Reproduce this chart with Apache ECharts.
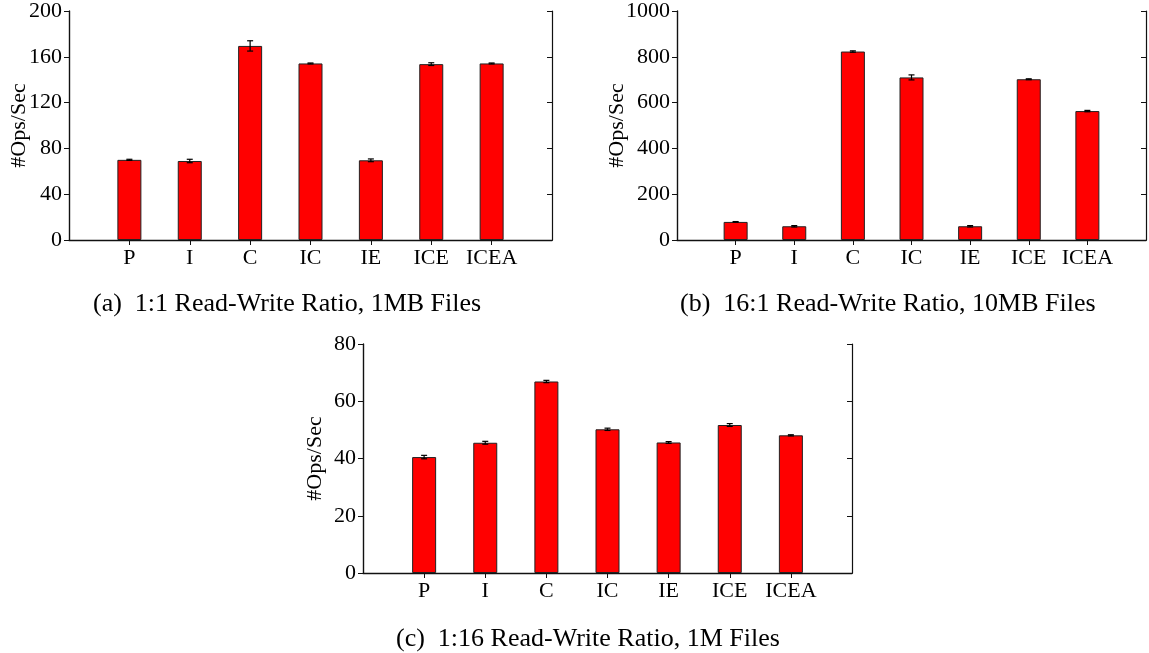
<!DOCTYPE html>
<html>
<head>
<meta charset="utf-8">
<script src="https://cdn.jsdelivr.net/npm/echarts@6/dist/echarts.min.js"></script>
<style>
  html, body { margin: 0; padding: 0; background: #fff; }
  #main { width: 1149px; height: 653px; }
</style>
</head>
<body>
<div id="main"></div>
<script>
// Configurations benchmarked
const categories = ['P', 'I', 'C', 'IC', 'IE', 'ICE', 'ICEA'];

// (a) 1:1 read-write ratio, 1MB files
const opsA = [70, 69, 169.5, 154.2, 69.6, 153.6, 154.2];
const errA = [0.5, 1.5, 4.5, 0.4, 1.2, 1.2, 0.4];
const ticksA = [0, 40, 80, 120, 160, 200];

// (b) 16:1 read-write ratio, 10MB files
const opsB = [79, 60, 823, 710, 60, 702, 563];
const errB = [1.5, 3, 3, 11, 3, 2, 3];
const ticksB = [0, 200, 400, 600, 800, 1000];

// (c) 1:16 read-write ratio, 1M files
const opsC = [40.5, 45.5, 66.9, 50.2, 45.6, 51.7, 48.1];
const errC = [0.6, 0.5, 0.4, 0.4, 0.3, 0.5, 0.2];
const ticksC = [0, 20, 40, 60, 80];

const captions = [
  '(a)  1:1 Read-Write Ratio, 1MB Files',
  '(b)  16:1 Read-Write Ratio, 10MB Files',
  '(c)  1:16 Read-Write Ratio, 1M Files'
];

const FONT = "'Liberation Serif', 'Times New Roman', serif";
const INK = '#111';

// blank slots on both ends leave one empty step at each side of the plot
const slots = [''].concat(categories, ['']);

const panels = [
  { ops: opsA, err: errA, ticks: ticksA, grid: { left: 69, top: 10, width: 483, height: 230 }, nameGap: 39 },
  { ops: opsB, err: errB, ticks: ticksB, grid: { left: 677, top: 10, width: 476, height: 230 }, nameGap: 49 },
  { ops: opsC, err: errC, ticks: ticksC, grid: { left: 363, top: 344, width: 489, height: 229 }, nameGap: 37 }
];

const grid = [], xAxis = [], yAxis = [], series = [];

panels.forEach((p, k) => {
  grid.push(Object.assign({ containLabel: false }, p.grid));
  const step = p.ticks[1] - p.ticks[0];
  const yMax = p.ticks[p.ticks.length - 1];

  // bottom category axis with labels
  xAxis.push({
    type: 'category', gridIndex: k, position: 'bottom', data: slots, boundaryGap: false,
    axisLine: { show: true, lineStyle: { color: INK, width: 1.4 } },
    axisTick: { show: false },
    axisLabel: { interval: 0, color: '#000', fontFamily: FONT, fontSize: 22, margin: 7 },
    splitLine: { show: false }
  });
  // top mirror axis: border line and inward ticks
  xAxis.push({
    type: 'category', gridIndex: k, position: 'top', data: slots, boundaryGap: false,
    axisLine: { show: true, lineStyle: { color: INK, width: 1.2 } },
    axisTick: { show: true, inside: true, length: 5, interval: (i) => i > 0 && i < slots.length - 1, lineStyle: { color: INK } },
    axisLabel: { show: false },
    splitLine: { show: false }
  });
  // left value axis with labels, ticks pointing out
  yAxis.push({
    type: 'value', gridIndex: k, position: 'left', min: 0, max: yMax, interval: step,
    name: '#Ops/Sec', nameLocation: 'middle', nameGap: p.nameGap, nameMoveOverlap: false,
    nameTextStyle: { color: '#000', fontFamily: FONT, fontSize: 22 },
    axisLine: { show: true, lineStyle: { color: INK, width: 1.4 } },
    axisTick: { show: true, inside: false, length: 5, lineStyle: { color: INK } },
    axisLabel: { color: '#000', fontFamily: FONT, fontSize: 22, margin: 7, formatter: (v) => String(v) },
    splitLine: { show: false }
  });
  // right mirror axis: border line and inward ticks
  yAxis.push({
    type: 'value', gridIndex: k, position: 'right', min: 0, max: yMax, interval: step,
    axisLine: { show: true, lineStyle: { color: INK, width: 1.2 } },
    axisTick: { show: true, inside: true, length: 5, lineStyle: { color: INK } },
    axisLabel: { show: false },
    splitLine: { show: false }
  });

  const xi = k * 2, yi = k * 2;
  series.push({
    type: 'bar', xAxisIndex: xi, yAxisIndex: yi, barWidth: 24,
    data: p.ops.map((v, i) => [i + 1, v]),
    itemStyle: { color: '#ff0000', borderColor: '#222', borderWidth: 1 },
    silent: true, animation: false
  });
  series.push({
    type: 'custom', xAxisIndex: xi, yAxisIndex: yi,
    data: p.ops.map((v, i) => [i + 1, v - p.err[i], v + p.err[i]]),
    encode: { x: 0, y: [1, 2] },
    renderItem: (params, api) => {
      const lo = api.coord([api.value(0), api.value(1)]);
      const hi = api.coord([api.value(0), api.value(2)]);
      const cap = 3;
      const style = { stroke: '#000', lineWidth: 1.2 };
      return {
        type: 'group',
        children: [
          { type: 'line', shape: { x1: lo[0], y1: lo[1], x2: hi[0], y2: hi[1] }, style },
          { type: 'line', shape: { x1: hi[0] - cap, y1: hi[1], x2: hi[0] + cap, y2: hi[1] }, style },
          { type: 'line', shape: { x1: lo[0] - cap, y1: lo[1], x2: lo[0] + cap, y2: lo[1] }, style }
        ]
      };
    },
    z: 5, silent: true, animation: false
  });
});

const title = [
  { left: 93, top: 291 },
  { left: 680, top: 291 },
  { left: 396, top: 626 }
].map((pos, k) => ({
  text: captions[k], left: pos.left, top: pos.top, padding: 0,
  textStyle: { fontFamily: FONT, fontSize: 26, fontWeight: 'normal', color: '#000', lineHeight: 26 }
}));

const chart = echarts.init(document.getElementById('main'), null, { renderer: 'canvas' });
chart.setOption({
  animation: false,
  backgroundColor: '#fff',
  title, grid, xAxis, yAxis, series
});
</script>
</body>
</html>
